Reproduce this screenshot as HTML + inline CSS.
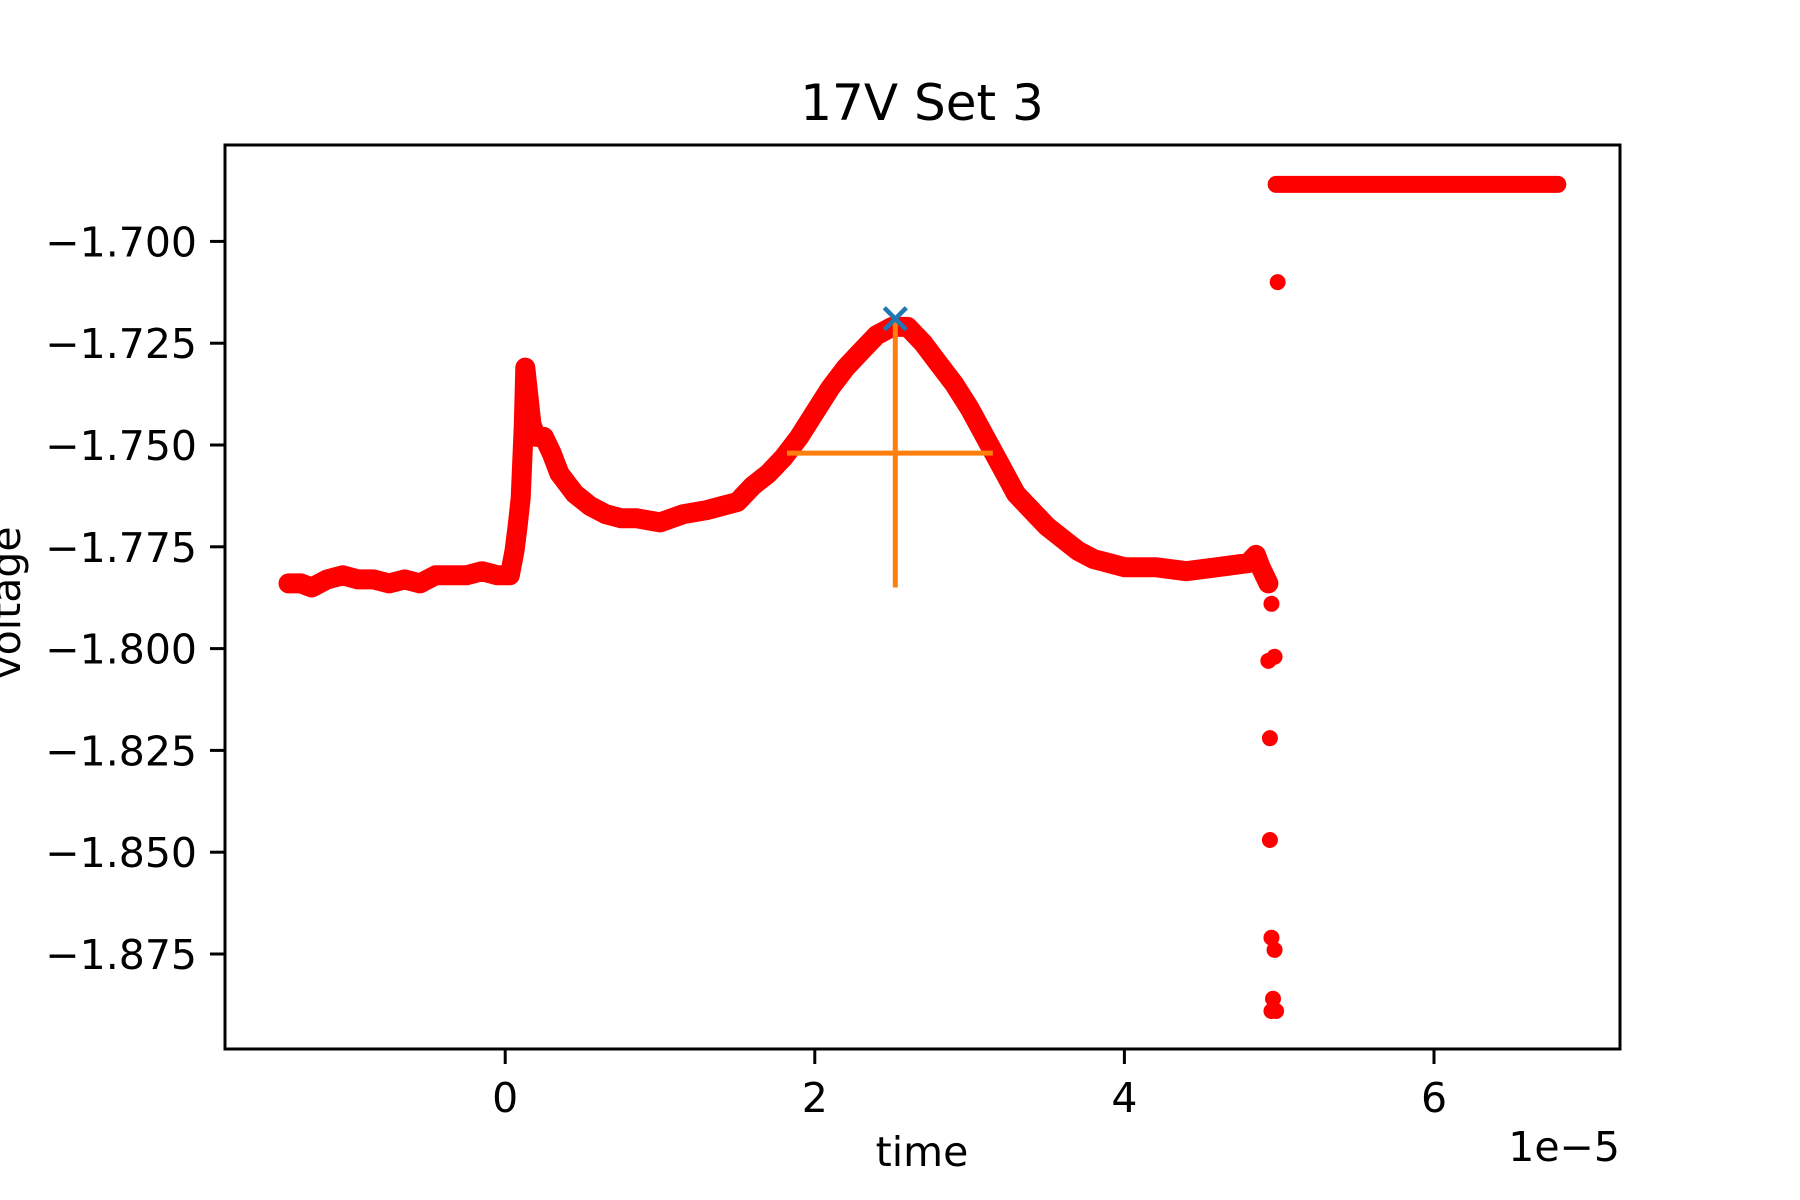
<!DOCTYPE html>
<html><head><meta charset="utf-8"><style>
html,body{margin:0;padding:0;background:#fff;}
svg{display:block;font-family:"DejaVu Sans","Liberation Sans",sans-serif;}
</style></head><body>
<svg id="chart" width="1800" height="1200" viewBox="0 0 1800 1200">
<rect width="1800" height="1200" fill="#fff"/>
<text x="922" y="120" font-size="50" text-anchor="middle">17V Set 3</text>
<g id="plot"></g>
<rect x="225" y="145" width="1395" height="904" fill="none" stroke="#000" stroke-width="3"/>
<g id="xticks"></g>
<g id="yticks"></g>
<text x="922" y="1166" font-size="41" text-anchor="middle">time</text>
<text x="1620" y="1161" font-size="41" text-anchor="end">1e−5</text>
<text transform="translate(20,603) rotate(-90)" font-size="41" text-anchor="middle">voltage</text>
</svg>
<script>
const traceT = [-1.40,-1.32,-1.25,-1.15,-1.05,-0.95,-0.85,-0.75,-0.65,-0.55,-0.45,-0.35,-0.25,-0.15,-0.05,0.00,0.03,0.06,0.08,0.10,0.12,0.13,0.15,0.17,0.20,0.25,0.30,0.35,0.45,0.55,0.65,0.75,0.85,1.00,1.15,1.30,1.40,1.50,1.60,1.70,1.80,1.90,2.00,2.10,2.20,2.30,2.40,2.50,2.60,2.70,2.80,2.90,3.00,3.10,3.20,3.30,3.40,3.50,3.60,3.70,3.80,3.90,4.00,4.20,4.40,4.60,4.80,4.85,4.88,4.93];
const traceV = [-1.784,-1.784,-1.785,-1.783,-1.782,-1.783,-1.783,-1.784,-1.783,-1.784,-1.782,-1.782,-1.782,-1.781,-1.782,-1.782,-1.782,-1.776,-1.770,-1.763,-1.745,-1.731,-1.738,-1.745,-1.748,-1.748,-1.752,-1.757,-1.762,-1.765,-1.767,-1.768,-1.768,-1.769,-1.767,-1.766,-1.765,-1.764,-1.760,-1.757,-1.753,-1.748,-1.742,-1.736,-1.731,-1.727,-1.723,-1.721,-1.721,-1.725,-1.730,-1.735,-1.741,-1.748,-1.755,-1.762,-1.766,-1.770,-1.773,-1.776,-1.778,-1.779,-1.780,-1.780,-1.781,-1.780,-1.779,-1.777,-1.780,-1.784];
const scatterT = [4.95,4.93,4.97,4.94,4.94,4.95,4.97,4.96,4.95,4.98,4.99];
const scatterV = [-1.789,-1.803,-1.802,-1.822,-1.847,-1.871,-1.874,-1.886,-1.889,-1.889,-1.710];
const flatT = [4.98,6.80];
const flatV = [-1.686,-1.686];
const peakT = [2.52];
const peakV = [-1.719];
const errX = [1.82,3.15];
const errY = [-1.719,-1.785];
const errCenterV = [-1.752];
const xTickVals = [0,2,4,6];
const yTickVals = [-1.700,-1.725,-1.750,-1.775,-1.800,-1.825,-1.850,-1.875];
const yTickLabels = ["−1.700","−1.725","−1.750","−1.775","−1.800","−1.825","−1.850","−1.875"];

const NS="http://www.w3.org/2000/svg";
function xs(t){return 505.2+154.8*t;}
function ys(v){return 241.4+(-1.700-v)/0.025*101.8;}
function mk(tag,attrs,parent){const e=document.createElementNS(NS,tag);for(const k in attrs)e.setAttribute(k,attrs[k]);parent.appendChild(e);return e;}
const plot=document.getElementById('plot');
let d=traceT.map((t,i)=>(i?'L':'M')+xs(t).toFixed(1)+' '+ys(traceV[i]).toFixed(1)).join(' ');
const tr=mk('path',{d:d,fill:'none',stroke:'#ff0000','stroke-width':20,'stroke-linecap':'round','stroke-linejoin':'round'},plot);


const fl=mk('path',{d:'M'+xs(flatT[0])+' '+ys(flatV[0])+' L'+xs(flatT[1])+' '+ys(flatV[1]),stroke:'#ff0000','stroke-width':17,'stroke-linecap':'round'},plot);


scatterT.forEach((t,i)=>{
 const c=mk('circle',{cx:xs(t),cy:ys(scatterV[i]),r:8,fill:'#ff0000'},plot);
 
 
});
const eh=mk('line',{x1:xs(errX[0]),x2:xs(errX[1]),y1:ys(errCenterV[0]),y2:ys(errCenterV[0]),stroke:'#ff7f0e','stroke-width':5},plot);


const ev=mk('line',{x1:xs(peakT[0]),x2:xs(peakT[0]),y1:ys(errY[0]),y2:ys(errY[1]),stroke:'#ff7f0e','stroke-width':5},plot);


const px=xs(peakT[0]),py=ys(peakV[0]);
const pk=mk('path',{d:`M${px-11} ${py-11} L${px+11} ${py+11} M${px-11} ${py+11} L${px+11} ${py-11}`,stroke:'#1f77b4','stroke-width':4.5},plot);


const xg=document.getElementById('xticks');
xTickVals.forEach(v=>{
 const x=xs(v);
 const l=mk('line',{x1:x,x2:x,y1:1049,y2:1064,stroke:'#000','stroke-width':3},xg);
 
 
 const t=mk('text',{x:x,y:1112,'font-size':41,'text-anchor':'middle'},xg);
 t.textContent=String(v);
 
 
});
const yg=document.getElementById('yticks');
yTickVals.forEach((v,i)=>{
 const y=ys(v);
 const l=mk('line',{x1:210,x2:225,y1:y,y2:y,stroke:'#000','stroke-width':3},yg);
 
 
 const t=mk('text',{x:197,y:y+15,'font-size':41,'text-anchor':'end'},yg);
 t.textContent=yTickLabels[i];
 
 
});
</script>
</body></html>
